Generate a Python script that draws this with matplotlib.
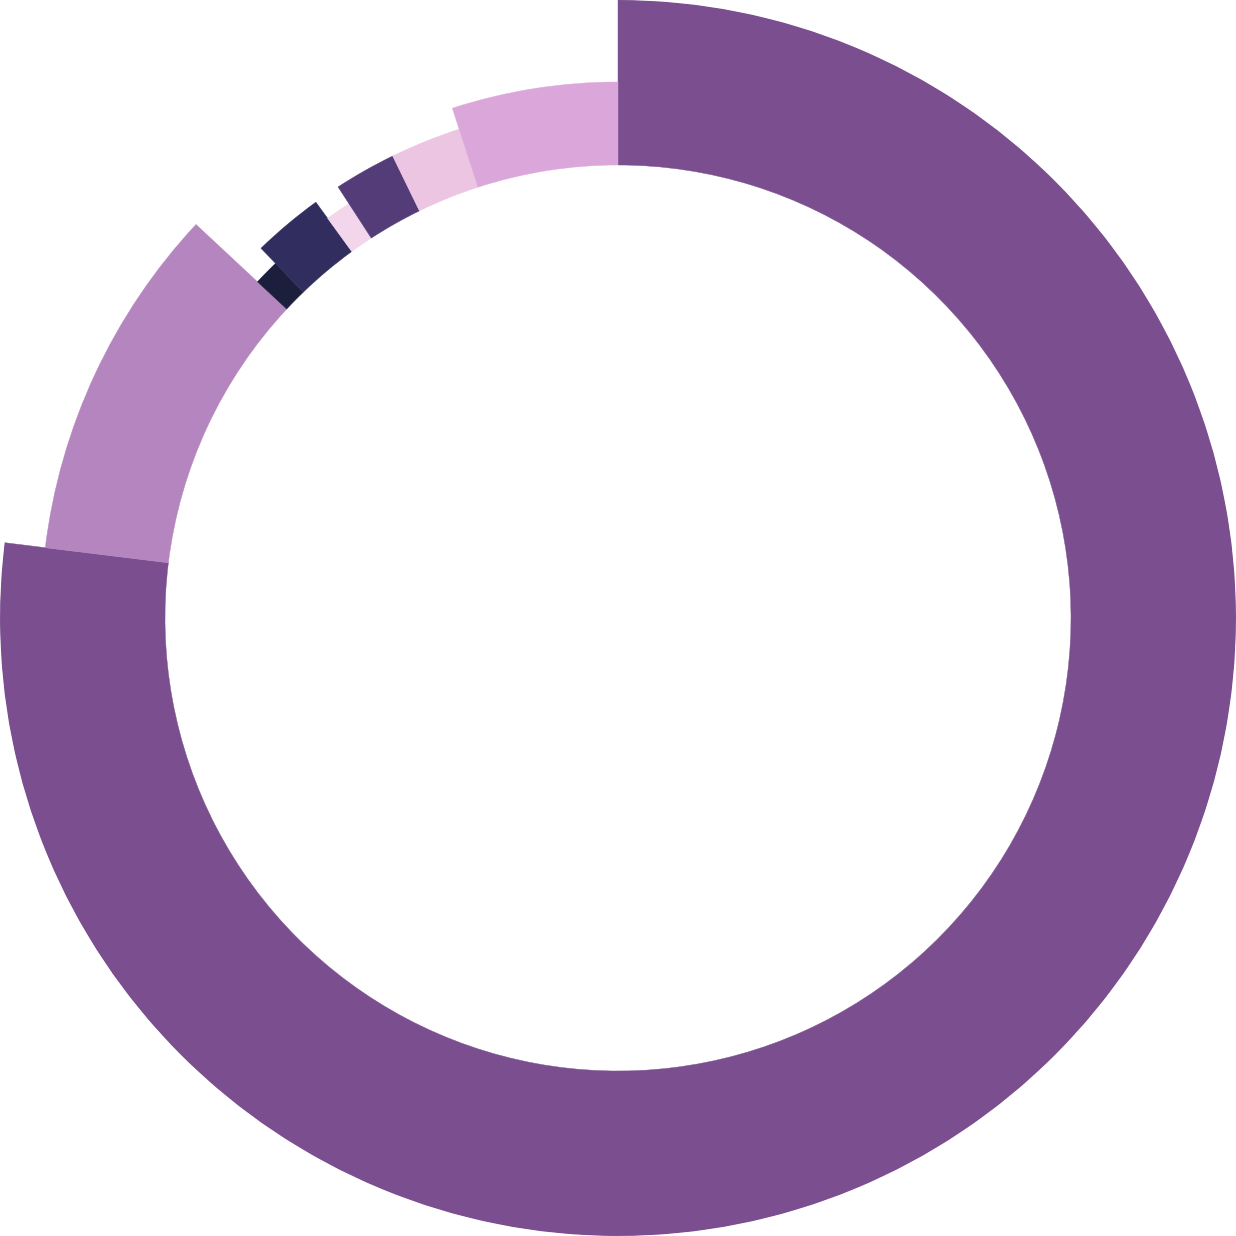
import numpy as np
import matplotlib
matplotlib.use("Agg")
import matplotlib.pyplot as plt

# Data (share of the circle, in degrees) and outer radius of each segment
shares = [277, 36, 3, 8, 3, 7, 8, 18]
outer_r = [618, 577, 493, 514, 494, 514, 514, 536]
colors = ["#7B4F8F", "#B585BF", "#1C1F3C", "#312D5E", "#F3D6EB",
          "#533C77", "#ECC5E3", "#DBA6D9"]
inner_r = 453

shares_arr = np.array(shares, dtype=float)
widths = shares_arr / shares_arr.sum() * 2 * np.pi
starts = np.concatenate([[0], np.cumsum(widths)[:-1]])

fig = plt.figure(figsize=(12.36, 12.36), dpi=100)
ax = fig.add_axes([0, 0, 1, 1], projection="polar")
ax.set_theta_zero_location("N")
ax.set_theta_direction(-1)
ax.bar(starts, np.array(outer_r) - inner_r, width=widths, bottom=inner_r,
       align="edge", color=colors, edgecolor=colors, linewidth=0.3)
ax.set_ylim(0, 618)
ax.set_axis_off()
fig.savefig("out.png", dpi=100, facecolor="white")
